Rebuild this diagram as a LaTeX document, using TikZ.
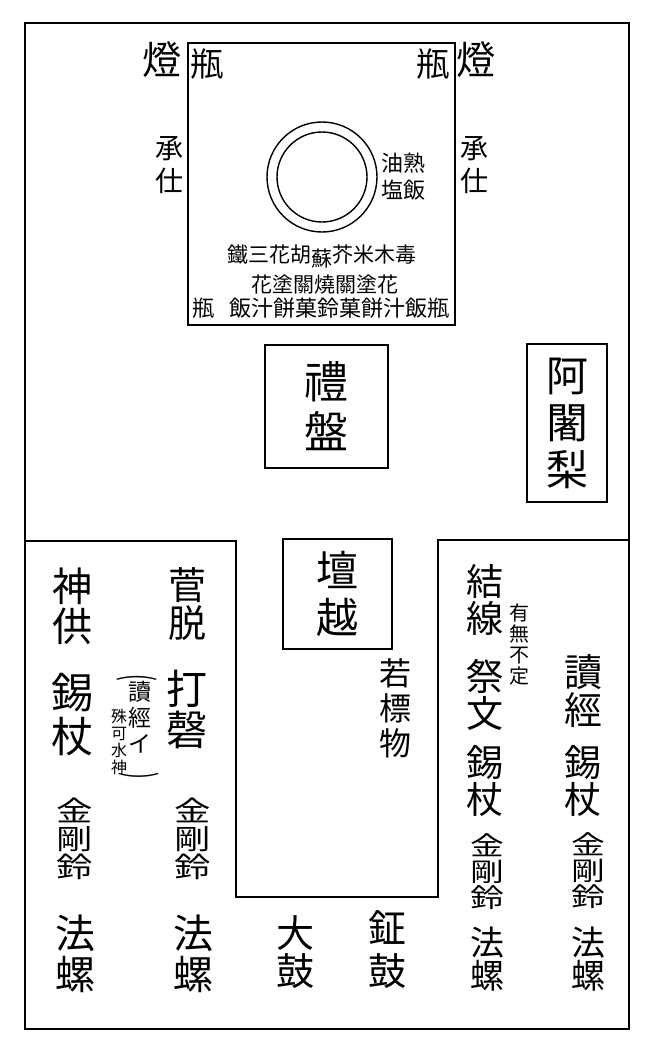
\documentclass[tikz,border=0pt]{standalone}
\usepackage{fontspec}
\setmainfont{Noto Sans CJK JP}
\newfontfamily\widecjk[FakeStretch=1.3]{Noto Sans CJK JP}
\tikzset{
  frame/.style={draw, line width=1.6pt},
  boxed/.style={frame, inner sep=0pt, align=center},
  cj/.style 2 args={inner sep=0pt, align=center, font=\fontsize{#1}{#2}\selectfont\lineskiplimit-100pt\relax},
  cjw/.style 2 args={inner sep=0pt, align=center, font=\widecjk\fontsize{#1}{#2}\selectfont\lineskiplimit-100pt\relax},
  paren/.style={inner sep=0pt, font=\fontsize{40}{40}\selectfont},
}
\begin{document}
\begin{tikzpicture}[x=1pt,y=-1pt]
\useasboundingbox (0,0) rectangle (654,1047);
% outer frame
\node[frame, minimum width=604pt, minimum height=1006pt, inner sep=0pt] (outer) at (327,526) {};
% division line
\coordinate (dl) at (outer.west |- 0,541);
\coordinate (dr) at (outer.east |- 0,540);
\draw[line width=1.6pt, line join=miter] (dl) -- (236,541) -- (236,897) -- (438,897) -- (438,540) -- (dr);
% offering table
\node[frame, minimum width=267pt, minimum height=282pt, inner sep=0pt] (table) at (321.5,184) {};
\node[circle, draw, line width=1.4pt, minimum size=110pt, inner sep=0pt] (bowlo) at (322,177) {};
\node[circle, draw, line width=1.4pt, minimum size=90pt, inner sep=0pt] (bowli) at (322,177) {};
% lamps, vases
\node[cj={39}{40}] (lampL) at (162,60) {燈};
\node[cj={39}{40}] (lampR) at (476,60) {燈};
\node[cj={33}{34}] (vaseTL) at (207,64) {瓶};
\node[cj={33}{34}] (vaseTR) at (433,64) {瓶};
\node[cj={28}{33}] (shojiL) at (169,165.5) {承\\仕};
\node[cj={28}{33}] (shojiR) at (474,165.5) {承\\仕};
\node[cj={22}{27}] (jukuhan) at (414,176.5) {熟\\飯};
\node[cj={22}{27}] (yuen) at (392,176.5) {油\\塩};
\node[cj={21}{24}] (row1) at (322,257) {鐵三花胡\raisebox{-4pt}{蘇}芥米木毒};
\node[cj={21}{24}] (row2) at (325,285) {花塗關燒關塗花};
\node[cj={22}{24}] (row3a) at (203,308) {瓶};
\node[cj={22}{24}] (row3b) at (339,308) {飯汁餅菓鈴菓餅汁飯瓶};
% raiban, ajari, danotsu
\node[boxed, minimum width=123pt, minimum height=123pt, cj={44}{50}] (raiban) at (326.5,406.5) {禮\\盤};
\node[boxed, minimum width=80pt, minimum height=158pt, cj={42}{47}] (ajari) at (567,423) {阿\\闍\\梨};
\node[boxed, minimum width=109pt, minimum height=110pt, cj={42}{47}] (danotsu) at (337.5,594) {壇\\越};
\node[cj={32}{35}] (hyomotsu) at (395,708) {若\\標\\物};
% left panel
\node[cj={40}{40}] (jinku) at (72,606) {神\\供};
\node[cj={42}{44}] (shakujoL) at (72,715) {錫\\杖};
\node[cjw={28}{28}] (kongoL) at (75,839) {金\\剛\\鈴};
\node[cj={40}{41}] (horaL) at (75,954) {法\\螺};
\node[cj={38}{38}] (kandatsu) at (187,604) {菅\\脱};
\node[cj={41}{41}] (dakei) at (187,709.5) {打\\磬};
\node[cjw={28}{28}] (kongoL2) at (193,839) {金\\剛\\鈴};
\node[cj={40}{41}] (horaL2) at (193,954) {法\\螺};
\node[paren, rotate=-90] (parT) at (137,678) {\scalebox{0.5}[1]{(}};
\node[paren, rotate=-90] (parB) at (139,776) {\scalebox{0.5}[1]{)}};
\node[cj={23}{26}] (dokyoi) at (140,717) {讀\\經\\イ};
\node[cj={16}{17}] (shuka) at (119,741.5) {殊\\可\\水\\神};
% center bottom
\node[cj={38}{38}] (taiko) at (295,952) {大\\鼓};
\node[cj={38}{43}] (shoko) at (387,950) {鉦\\鼓};
% right panel
\node[cj={37}{37}] (kessen) at (485,600) {結\\線};
\node[cj={20}{21}] (umu) at (519,644) {有\\無\\不\\定};
\node[cj={37}{37}] (saimon) at (485,694.5) {祭\\文};
\node[cj={37}{37}] (shakujoR) at (485,781) {錫\\杖};
\node[cjw={26}{26}] (kongoR) at (487,872) {金\\剛\\鈴};
\node[cj={34}{33}] (horaR) at (487,959) {法\\螺};
\node[cj={38}{38}] (dokyo) at (583,691.5) {讀\\經};
\node[cj={37}{37}] (shakujoR2) at (583,781) {錫\\杖};
\node[cjw={26}{26}] (kongoR2) at (588,871) {金\\剛\\鈴};
\node[cj={34}{33}] (horaR2) at (588,959) {法\\螺};
\end{tikzpicture}
\end{document}
